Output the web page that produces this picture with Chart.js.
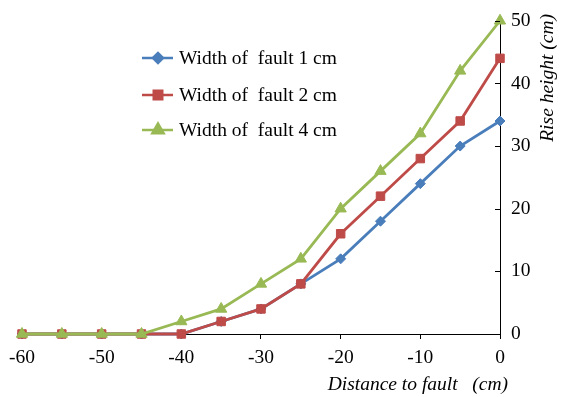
<!DOCTYPE html>
<html>
<head>
<meta charset="utf-8">
<script src="https://cdn.jsdelivr.net/npm/chart.js@4"></script>
<style>
  html, body { margin: 0; padding: 0; background: #fff; }
  #wrap { width: 564px; height: 397px; }
</style>
</head>
<body>
<div id="wrap"><canvas id="riseChart" width="564" height="397"></canvas></div>
<script>
// Data
const distances = [-60, -55, -50, -45, -40, -35, -30, -25, -20, -15, -10, -5, 0];
const width1cm = [0, 0, 0, 0, 0, 2, 4, 8, 12, 18, 24, 30, 34];
const width2cm = [0, 0, 0, 0, 0, 2, 4, 8, 16, 22, 28, 34, 44];
const width4cm = [0, 0, 0, 0, 2, 4, 8, 12, 20, 26, 32, 42, 50];
const seriesLabels = ['Width of  fault 1 cm', 'Width of  fault 2 cm', 'Width of  fault 4 cm'];
const yTicks = [0, 10, 20, 30, 40, 50];

const FONT = '"Liberation Serif", "Times New Roman", serif';
const FSIZE = 19.5;
const colors = ['#4a7ebb', '#be4b48', '#98b954'];
const shapes = ['rectRot', 'rect', 'triangle'];
const radii = [5, 6, 6.5];

function pts(arr) {
    return distances.map((d, i) => ({ x: d, y: arr[i] }));
}

// Axis titles, inner y ticks and the legend
const decorations = {
    id: 'decorations',
    afterDraw(chart) {
        const ctx = chart.ctx;
        const y = chart.scales.y;
        const area = chart.chartArea;
        ctx.save();
        ctx.strokeStyle = '#000';
        ctx.lineWidth = 1;
        yTicks.forEach(v => {
            const py = Math.round(y.getPixelForValue(v)) + 0.5;
            ctx.beginPath();
            ctx.moveTo(area.right - 5, py);
            ctx.lineTo(area.right, py);
            ctx.stroke();
        });

        ctx.fillStyle = '#000';
        ctx.font = 'italic ' + FSIZE + 'px ' + FONT;
        ctx.textBaseline = 'middle';
        ctx.textAlign = 'right';
        ctx.fillText('Distance to fault   (cm)', 508, 385);

        ctx.save();
        ctx.translate(548, 14);
        ctx.rotate(-Math.PI / 2);
        ctx.textAlign = 'right';
        ctx.fillText('Rise height (cm)', 0, 0);
        ctx.restore();

        // legend
        const rows = [58, 95, 130];
        ctx.font = FSIZE + 'px ' + FONT;
        ctx.textAlign = 'left';
        rows.forEach((ry, i) => {
            ctx.strokeStyle = colors[i];
            ctx.lineWidth = 2.5;
            ctx.beginPath();
            ctx.moveTo(142, ry);
            ctx.lineTo(173, ry);
            ctx.stroke();
            Chart.helpers.drawPoint(ctx, {
                pointStyle: shapes[i],
                radius: radii[i],
                borderWidth: 1
            }, 158, ry);
            ctx.fillStyle = colors[i];
            ctx.strokeStyle = colors[i];
            ctx.fill();
            ctx.fillStyle = '#000';
            ctx.fillText(seriesLabels[i], 179, ry + 1);
        });
        ctx.restore();
    }
};

function makeDataset(i, arr, order) {
    return {
        label: seriesLabels[i],
        data: pts(arr),
        borderColor: colors[i],
        backgroundColor: colors[i],
        borderWidth: 2.8,
        pointStyle: shapes[i],
        pointRadius: radii[i],
        pointBorderWidth: 1,
        pointBackgroundColor: colors[i],
        pointBorderColor: colors[i],
        tension: 0,
        clip: false,
        order: order
    };
}

const ctx = document.getElementById('riseChart');
new Chart(ctx, {
    type: 'line',
    data: {
        datasets: [
            makeDataset(0, width1cm, 3),
            makeDataset(1, width2cm, 2),
            makeDataset(2, width4cm, 1)
        ]
    },
    options: {
        responsive: false,
        animation: false,
        layout: { padding: { left: 20, top: 14, right: 0, bottom: 0 } },
        plugins: {
            legend: { display: false },
            tooltip: { enabled: false }
        },
        scales: {
            x: {
                type: 'linear',
                min: -60,
                max: 0,
                afterFit(scale) { scale.height = 63; },
                border: { display: true, color: '#000', width: 1 },
                grid: { drawOnChartArea: false, drawTicks: true, tickLength: 5, color: '#000' },
                ticks: {
                    stepSize: 10,
                    color: '#000',
                    padding: 9,
                    maxRotation: 0,
                    font: { family: FONT, size: FSIZE, lineHeight: 1 }
                }
            },
            y: {
                type: 'linear',
                position: 'right',
                min: 0,
                max: 50,
                afterFit(scale) { scale.width = 64; },
                afterBuildTicks(scale) { scale.ticks = yTicks.map(v => ({ value: v })); },
                border: { display: true, color: '#000', width: 1 },
                grid: { drawOnChartArea: false, drawTicks: false },
                ticks: {
                    color: '#000',
                    padding: 11,
                    font: { family: FONT, size: FSIZE, lineHeight: 1 }
                }
            }
        }
    },
    plugins: [decorations]
});
</script>
</body>
</html>
